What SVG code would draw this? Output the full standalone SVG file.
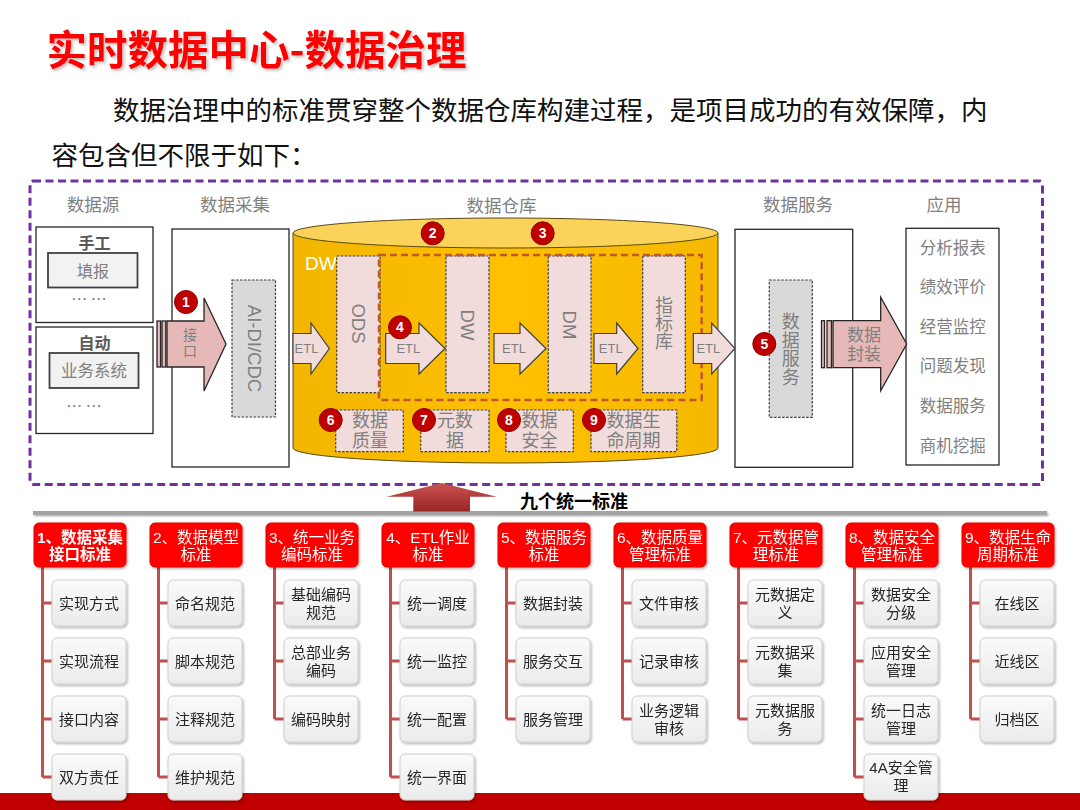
<svg xmlns="http://www.w3.org/2000/svg" width="1080" height="810" viewBox="0 0 1080 810">
<defs>
<style>
text{font-family:"Liberation Sans","Noto Sans CJK SC",sans-serif;}
.cjk{font-family:"Noto Sans CJK SC","Noto Sans",sans-serif;}
.col{font-size:17.5px;fill:#7f7f7f;text-anchor:middle}
.wh{font-size:18px;fill:#7f7f7f;text-anchor:middle}
.vt{font-size:18px;fill:#7f7f7f;text-anchor:middle;writing-mode:vertical-rl}
.rot{font-size:18.5px;fill:#7f7f7f;text-anchor:middle}
.etl{font-size:13px;fill:#7f7f7f;text-anchor:middle}
.app{font-size:16.5px;fill:#7f7f7f;text-anchor:middle}
.hd{font-size:15.5px;fill:#fff;text-anchor:middle}
.ch{font-size:15px;fill:#262626;text-anchor:middle}
.badge circle{fill:#c00000;stroke:#900000;stroke-width:1}
.badge text{font-size:14px;font-weight:bold;fill:#fff;text-anchor:middle}
.box{fill:#fff;stroke:#262626;stroke-width:1.3}
.src{fill:#f2f2f2;stroke:#404040;stroke-width:1.8}
.pink{fill:#f2dcdb;stroke:#404040;stroke-width:1.2;stroke-dasharray:2.5 1.5}
.grey{fill:#d9d9d9;stroke:#404040;stroke-width:1.2;stroke-dasharray:2.5 1.5}
.etla{fill:#f2dcdb;stroke:#404040;stroke-width:1.2}
.biga{fill:#e6b9b8;stroke:#262626;stroke-width:1.3}
.hdr{fill:#ff0000;stroke:#e60000;stroke-width:1}
.chb{fill:url(#chg);stroke:#cfcfcf;stroke-width:1}
.tree{fill:none;stroke:#c0504d;stroke-width:3}
</style>
<linearGradient id="chg" x1="0" y1="0" x2="0" y2="1"><stop offset="0" stop-color="#fafafa"/><stop offset="1" stop-color="#ebebeb"/></linearGradient>
<linearGradient id="cyl" x1="0" y1="0" x2="1" y2="0"><stop offset="0" stop-color="#f2b600"/><stop offset="0.5" stop-color="#ffc000"/><stop offset="1" stop-color="#f5b900"/></linearGradient>
<linearGradient id="upg" x1="0" y1="0" x2="0" y2="1"><stop offset="0" stop-color="#c85450"/><stop offset="1" stop-color="#9b2424"/></linearGradient>
<filter id="sh" x="-20%" y="-20%" width="140%" height="150%"><feDropShadow dx="1.2" dy="1.5" stdDeviation="1.3" flood-color="#000" flood-opacity="0.3"/></filter>
<filter id="tsh" x="-5%" y="-20%" width="110%" height="150%"><feDropShadow dx="2" dy="2" stdDeviation="1.5" flood-color="#000" flood-opacity="0.25"/></filter>
</defs>
<rect width="1080" height="810" fill="#fff"/>

<!-- title -->
<text class="cjk" x="46.5" y="64.5" font-size="40.5" font-weight="bold" fill="#ff0000" filter="url(#tsh)">实时数据中心-数据治理</text>
<text class="cjk" x="113" y="120" font-size="26.5" fill="#111">数据治理中的标准贯穿整个数据仓库构建过程，是项目成功的有效保障，内</text>
<text class="cjk" x="51.5" y="164.5" font-size="26.5" fill="#111">容包含但不限于如下：</text>

<!-- dashed frame -->
<rect x="30" y="181" width="1012.5" height="303.5" rx="3" fill="none" stroke="#7030a0" stroke-width="3" stroke-dasharray="8 4.5"/>

<!-- column headers -->
<text class="col" x="93" y="211">数据源</text>
<text class="col" x="235" y="211">数据采集</text>
<text class="col" x="501.5" y="211.5">数据仓库</text>
<text class="col" x="798" y="211">数据服务</text>
<text class="col" x="944" y="211">应用</text>

<!-- data sources -->
<g id="src-manual">
<rect class="box" x="36" y="227" width="117" height="95.5"/>
<text x="94.5" y="249" font-size="16" font-weight="bold" fill="#595959" text-anchor="middle">手工</text>
<rect class="src" x="48" y="253" width="89.5" height="34.5"/>
<text x="93" y="276.5" font-size="16" fill="#7f7f7f" text-anchor="middle">填报</text>
<text class="cjk" x="89" y="305" font-size="16" fill="#7f7f7f" text-anchor="middle">… …</text>
</g>
<g id="src-auto">
<rect class="box" x="36" y="327" width="117" height="106.5"/>
<text x="94.5" y="349" font-size="16" font-weight="bold" fill="#595959" text-anchor="middle">自动</text>
<rect class="src" x="49.5" y="353" width="89" height="35"/>
<text x="94" y="376.5" font-size="16.5" fill="#7f7f7f" text-anchor="middle">业务系统</text>
<text class="cjk" x="84" y="412" font-size="16" fill="#7f7f7f" text-anchor="middle">… …</text>
</g>

<!-- data collection -->
<g id="collect">
<rect class="box" x="172" y="229" width="117" height="238"/>
<rect class="grey" x="232" y="280" width="43.5" height="137"/>
<text class="rot" transform="translate(254,348.5) rotate(90)" y="6.5">AI-DI/CDC</text>
</g>

<!-- warehouse cylinder -->
<g id="warehouse">
<path d="M293,233 V448 A212.5,15 0 0 0 718,448 V233 Z" fill="url(#cyl)" stroke="#5a4a10" stroke-width="1"/>
<ellipse cx="505.5" cy="233" rx="212.5" ry="15" fill="#fbd35a" stroke="#5a4a10" stroke-width="1"/>
<text x="305" y="269.5" font-size="19" fill="#fff">DW</text>
</g>
<g id="ods">
<rect class="pink" x="336.7" y="256" width="43.3" height="136.7"/>
<text class="rot" transform="translate(358.3,323.5) rotate(90)" y="6.5">ODS</text>
</g>
<g id="dw">
<rect class="pink" x="446" y="256" width="43" height="136.7"/>
<text class="rot" transform="translate(467.5,325) rotate(90)" y="6.5">DW</text>
</g>
<g id="dm">
<rect class="pink" x="548.3" y="256" width="42.7" height="136.7"/>
<text class="rot" transform="translate(569.7,325) rotate(90)" y="6.5">DM</text>
</g>
<g id="index">
<rect class="pink" x="642.7" y="256" width="42.6" height="136.7"/>
<text class="vt cjk" x="664" y="323">指标库</text>
</g>
<rect x="379" y="255" width="322.7" height="145" fill="none" stroke="#c0582b" stroke-width="2.5" stroke-dasharray="7 4"/>
<g id="quality">
<rect class="pink" x="335.7" y="410" width="67.6" height="41.7"/>
<text class="wh" x="370" y="426.5"><tspan x="370">数据</tspan><tspan x="370" dy="20.5">质量</tspan></text>
</g>
<g id="metadata">
<rect class="pink" x="420.7" y="410" width="68.3" height="41.7"/>
<text class="wh" x="455" y="426.5"><tspan x="455">元数</tspan><tspan x="455" dy="20.5">据</tspan></text>
</g>
<g id="security">
<rect class="pink" x="506" y="410" width="67.3" height="41.7"/>
<text class="wh" x="539.5" y="426.5"><tspan x="539.5">数据</tspan><tspan x="539.5" dy="20.5">安全</tspan></text>
</g>
<g id="lifecycle">
<rect class="pink" x="591" y="410" width="85.7" height="41.7"/>
<text class="wh" x="633.5" y="426.5"><tspan x="633.5">数据生</tspan><tspan x="633.5" dy="20.5">命周期</tspan></text>
</g>

<!-- data service -->
<g id="service">
<rect class="box" x="735" y="229.3" width="117.7" height="238"/>
<rect class="grey" x="769.3" y="280" width="43" height="137.3"/>
<text class="vt cjk" x="790.8" y="349.5" letter-spacing="0.5">数据服务</text>
</g>

<!-- apps -->
<g id="apps">
<rect class="box" x="906" y="228.3" width="93" height="236.7"/>
<text class="app" x="952.7" y="254.4">分析报表</text>
<text class="app" x="952.7" y="293.4">绩效评价</text>
<text class="app" x="952.7" y="332.8">经营监控</text>
<text class="app" x="952.7" y="372.1">问题发现</text>
<text class="app" x="952.7" y="412.1">数据服务</text>
<text class="app" x="952.7" y="451.8">商机挖掘</text>
</g>

<!-- connectors -->
<g id="connectors">
<rect class="biga" x="157" y="321" width="3.6" height="46"/>
<rect class="biga" x="162" y="321" width="3.8" height="46"/>
<polygon class="biga" points="167,321 204,321 204,298 226,344 204,391 204,367 167,367"/>
<text class="cjk" x="190" y="343.7" font-size="14" fill="#7f7f7f" text-anchor="middle" letter-spacing="2" style="writing-mode:vertical-rl">接口</text>

<polygon class="etla" points="293,333.5 311,333.5 311,323 329.3,348.5 311,374 311,363.5 293,363.5"/>
<text class="etl" x="306.5" y="353">ETL</text>
<polygon class="etla" points="385.7,333.5 419,333.5 419,323 445,348.5 419,374 419,363.5 385.7,363.5"/>
<text class="etl" x="408.3" y="353">ETL</text>
<polygon class="etla" points="494,333.5 520,333.5 520,323 546,348.5 520,374 520,363.5 494,363.5"/>
<text class="etl" x="514" y="353">ETL</text>
<polygon class="etla" points="594,333.5 616.7,333.5 616.7,323 638,348.5 616.7,374 616.7,363.5 594,363.5"/>
<text class="etl" x="610.7" y="353">ETL</text>
<polygon class="etla" points="693.3,333.5 711.7,333.5 711.7,323 735,348.5 711.7,374 711.7,363.5 693.3,363.5"/>
<text class="etl" x="708.3" y="353">ETL</text>

<rect class="biga" x="821.5" y="320.7" width="3" height="47"/>
<rect class="biga" x="827" y="320.7" width="4.5" height="47"/>
<polygon class="biga" points="833,320.7 880.7,320.7 880.7,297.3 906.7,344 880.7,390.7 880.7,367.7 833,367.7"/>
<text x="864" y="340.8" font-size="17" fill="#7f7f7f" text-anchor="middle"><tspan x="864">数据</tspan><tspan x="864" dy="19.3">封装</tspan></text>

<path class="tree" d="M42.5,567 V777 M42.5,603 H52 M42.5,661 H52 M42.5,719 H52 M42.5,777 H52"/>
<path class="tree" d="M158.5,567 V777 M158.5,603 H168 M158.5,661 H168 M158.5,719 H168 M158.5,777 H168"/>
<path class="tree" d="M274.5,567 V719 M274.5,603 H284 M274.5,661 H284 M274.5,719 H284"/>
<path class="tree" d="M390.5,567 V777 M390.5,603 H400 M390.5,661 H400 M390.5,719 H400 M390.5,777 H400"/>
<path class="tree" d="M506.5,567 V719 M506.5,603 H516 M506.5,661 H516 M506.5,719 H516"/>
<path class="tree" d="M622.5,567 V719 M622.5,603 H632 M622.5,661 H632 M622.5,719 H632"/>
<path class="tree" d="M738.5,567 V719 M738.5,603 H748 M738.5,661 H748 M738.5,719 H748"/>
<path class="tree" d="M854.5,567 V777 M854.5,603 H864 M854.5,661 H864 M854.5,719 H864 M854.5,777 H864"/>
<path class="tree" d="M970.5,567 V719 M970.5,603 H980 M970.5,661 H980 M970.5,719 H980"/>
</g>

<!-- badges -->
<g class="badge">
<circle cx="186" cy="302" r="11.5"/><text x="186" y="307">1</text>
<circle cx="432.7" cy="233.3" r="11.5"/><text x="432.7" y="238.3">2</text>
<circle cx="542.7" cy="233.3" r="11.5"/><text x="542.7" y="238.3">3</text>
<circle cx="400" cy="327.3" r="11.5"/><text x="400" y="332.3">4</text>
<circle cx="764.3" cy="344" r="11.5"/><text x="764.3" y="349">5</text>
<circle cx="330.7" cy="420" r="11.5"/><text x="330.7" y="425">6</text>
<circle cx="424" cy="420" r="11.5"/><text x="424" y="425">7</text>
<circle cx="509" cy="420" r="11.5"/><text x="509" y="425">8</text>
<circle cx="594" cy="420" r="11.5"/><text x="594" y="425">9</text>
</g>

<!-- up arrow and divider -->
<rect x="33" y="511" width="1014" height="4" fill="#a3a3a3" filter="url(#sh)"/>
<polygon points="441.7,483 496.7,496.7 470,496.7 470,511.5 413.3,511.5 413.3,496.7 386.7,496.7" fill="url(#upg)"/>
<text x="520" y="508.3" font-size="18" font-weight="bold" fill="#000">九个统一标准</text>

<!-- bottom band -->
<rect x="0" y="793" width="1080" height="17" fill="#c00000"/>

<!-- standards -->
<g id="std1" filter="url(#sh)"><rect class="hdr" x="34" y="523" width="92" height="44" rx="5"/><text class="hd" x="80" y="542.5" font-weight="bold"><tspan x="80">1、数据采集</tspan><tspan x="80" dy="17.5">接口标准</tspan></text></g>
<g id="std2" filter="url(#sh)"><rect class="hdr" x="150" y="523" width="92" height="44" rx="5"/><text class="hd" x="196" y="542.5"><tspan x="196">2、数据模型</tspan><tspan x="196" dy="17.5">标准</tspan></text></g>
<g id="std3" filter="url(#sh)"><rect class="hdr" x="266" y="523" width="92" height="44" rx="5"/><text class="hd" x="312" y="542.5"><tspan x="312">3、统一业务</tspan><tspan x="312" dy="17.5">编码标准</tspan></text></g>
<g id="std4" filter="url(#sh)"><rect class="hdr" x="382" y="523" width="92" height="44" rx="5"/><text class="hd" x="428" y="542.5"><tspan x="428">4、ETL作业</tspan><tspan x="428" dy="17.5">标准</tspan></text></g>
<g id="std5" filter="url(#sh)"><rect class="hdr" x="498" y="523" width="92" height="44" rx="5"/><text class="hd" x="544" y="542.5"><tspan x="544">5、数据服务</tspan><tspan x="544" dy="17.5">标准</tspan></text></g>
<g id="std6" filter="url(#sh)"><rect class="hdr" x="614" y="523" width="92" height="44" rx="5"/><text class="hd" x="660" y="542.5"><tspan x="660">6、数据质量</tspan><tspan x="660" dy="17.5">管理标准</tspan></text></g>
<g id="std7" filter="url(#sh)"><rect class="hdr" x="730" y="523" width="92" height="44" rx="5"/><text class="hd" x="776" y="542.5"><tspan x="776">7、元数据管</tspan><tspan x="776" dy="17.5">理标准</tspan></text></g>
<g id="std8" filter="url(#sh)"><rect class="hdr" x="846" y="523" width="92" height="44" rx="5"/><text class="hd" x="892" y="542.5"><tspan x="892">8、数据安全</tspan><tspan x="892" dy="17.5">管理标准</tspan></text></g>
<g id="std9" filter="url(#sh)"><rect class="hdr" x="962" y="523" width="92" height="44" rx="5"/><text class="hd" x="1008" y="542.5"><tspan x="1008">9、数据生命</tspan><tspan x="1008" dy="17.5">周期标准</tspan></text></g>

<!-- col 1 -->
<g id="s1-1" filter="url(#sh)"><rect class="chb" x="52" y="580" width="74" height="46" rx="5"/><text class="ch" x="89" y="608.5">实现方式</text></g>
<g id="s1-2" filter="url(#sh)"><rect class="chb" x="52" y="638" width="74" height="46" rx="5"/><text class="ch" x="89" y="666.5">实现流程</text></g>
<g id="s1-3" filter="url(#sh)"><rect class="chb" x="52" y="696" width="74" height="46" rx="5"/><text class="ch" x="89" y="724.5">接口内容</text></g>
<g id="s1-4" filter="url(#sh)"><rect class="chb" x="52" y="754" width="74" height="46" rx="5"/><text class="ch" x="89" y="782.5">双方责任</text></g>
<!-- col 2 -->
<g id="s2-1" filter="url(#sh)"><rect class="chb" x="168" y="580" width="74" height="46" rx="5"/><text class="ch" x="205" y="608.5">命名规范</text></g>
<g id="s2-2" filter="url(#sh)"><rect class="chb" x="168" y="638" width="74" height="46" rx="5"/><text class="ch" x="205" y="666.5">脚本规范</text></g>
<g id="s2-3" filter="url(#sh)"><rect class="chb" x="168" y="696" width="74" height="46" rx="5"/><text class="ch" x="205" y="724.5">注释规范</text></g>
<g id="s2-4" filter="url(#sh)"><rect class="chb" x="168" y="754" width="74" height="46" rx="5"/><text class="ch" x="205" y="782.5">维护规范</text></g>
<!-- col 3 -->
<g id="s3-1" filter="url(#sh)"><rect class="chb" x="284" y="580" width="74" height="46" rx="5"/><text class="ch" x="321" y="599.5"><tspan x="321">基础编码</tspan><tspan x="321" dy="18">规范</tspan></text></g>
<g id="s3-2" filter="url(#sh)"><rect class="chb" x="284" y="638" width="74" height="46" rx="5"/><text class="ch" x="321" y="657.5"><tspan x="321">总部业务</tspan><tspan x="321" dy="18">编码</tspan></text></g>
<g id="s3-3" filter="url(#sh)"><rect class="chb" x="284" y="696" width="74" height="46" rx="5"/><text class="ch" x="321" y="724.5">编码映射</text></g>
<!-- col 4 -->
<g id="s4-1" filter="url(#sh)"><rect class="chb" x="400" y="580" width="74" height="46" rx="5"/><text class="ch" x="437" y="608.5">统一调度</text></g>
<g id="s4-2" filter="url(#sh)"><rect class="chb" x="400" y="638" width="74" height="46" rx="5"/><text class="ch" x="437" y="666.5">统一监控</text></g>
<g id="s4-3" filter="url(#sh)"><rect class="chb" x="400" y="696" width="74" height="46" rx="5"/><text class="ch" x="437" y="724.5">统一配置</text></g>
<g id="s4-4" filter="url(#sh)"><rect class="chb" x="400" y="754" width="74" height="46" rx="5"/><text class="ch" x="437" y="782.5">统一界面</text></g>
<!-- col 5 -->
<g id="s5-1" filter="url(#sh)"><rect class="chb" x="516" y="580" width="74" height="46" rx="5"/><text class="ch" x="553" y="608.5">数据封装</text></g>
<g id="s5-2" filter="url(#sh)"><rect class="chb" x="516" y="638" width="74" height="46" rx="5"/><text class="ch" x="553" y="666.5">服务交互</text></g>
<g id="s5-3" filter="url(#sh)"><rect class="chb" x="516" y="696" width="74" height="46" rx="5"/><text class="ch" x="553" y="724.5">服务管理</text></g>
<!-- col 6 -->
<g id="s6-1" filter="url(#sh)"><rect class="chb" x="632" y="580" width="74" height="46" rx="5"/><text class="ch" x="669" y="608.5">文件审核</text></g>
<g id="s6-2" filter="url(#sh)"><rect class="chb" x="632" y="638" width="74" height="46" rx="5"/><text class="ch" x="669" y="666.5">记录审核</text></g>
<g id="s6-3" filter="url(#sh)"><rect class="chb" x="632" y="696" width="74" height="46" rx="5"/><text class="ch" x="669" y="715.5"><tspan x="669">业务逻辑</tspan><tspan x="669" dy="18">审核</tspan></text></g>
<!-- col 7 -->
<g id="s7-1" filter="url(#sh)"><rect class="chb" x="748" y="580" width="74" height="46" rx="5"/><text class="ch" x="785" y="599.5"><tspan x="785">元数据定</tspan><tspan x="785" dy="18">义</tspan></text></g>
<g id="s7-2" filter="url(#sh)"><rect class="chb" x="748" y="638" width="74" height="46" rx="5"/><text class="ch" x="785" y="657.5"><tspan x="785">元数据采</tspan><tspan x="785" dy="18">集</tspan></text></g>
<g id="s7-3" filter="url(#sh)"><rect class="chb" x="748" y="696" width="74" height="46" rx="5"/><text class="ch" x="785" y="715.5"><tspan x="785">元数据服</tspan><tspan x="785" dy="18">务</tspan></text></g>
<!-- col 8 -->
<g id="s8-1" filter="url(#sh)"><rect class="chb" x="864" y="580" width="74" height="46" rx="5"/><text class="ch" x="901" y="599.5"><tspan x="901">数据安全</tspan><tspan x="901" dy="18">分级</tspan></text></g>
<g id="s8-2" filter="url(#sh)"><rect class="chb" x="864" y="638" width="74" height="46" rx="5"/><text class="ch" x="901" y="657.5"><tspan x="901">应用安全</tspan><tspan x="901" dy="18">管理</tspan></text></g>
<g id="s8-3" filter="url(#sh)"><rect class="chb" x="864" y="696" width="74" height="46" rx="5"/><text class="ch" x="901" y="715.5"><tspan x="901">统一日志</tspan><tspan x="901" dy="18">管理</tspan></text></g>
<g id="s8-4" filter="url(#sh)"><rect class="chb" x="864" y="754" width="74" height="46" rx="5"/><text class="ch" x="901" y="772.5"><tspan x="901">4A安全管</tspan><tspan x="901" dy="18.5">理</tspan></text></g>
<!-- col 9 -->
<g id="s9-1" filter="url(#sh)"><rect class="chb" x="980" y="580" width="74" height="46" rx="5"/><text class="ch" x="1017" y="608.5">在线区</text></g>
<g id="s9-2" filter="url(#sh)"><rect class="chb" x="980" y="638" width="74" height="46" rx="5"/><text class="ch" x="1017" y="666.5">近线区</text></g>
<g id="s9-3" filter="url(#sh)"><rect class="chb" x="980" y="696" width="74" height="46" rx="5"/><text class="ch" x="1017" y="724.5">归档区</text></g>
</svg>
